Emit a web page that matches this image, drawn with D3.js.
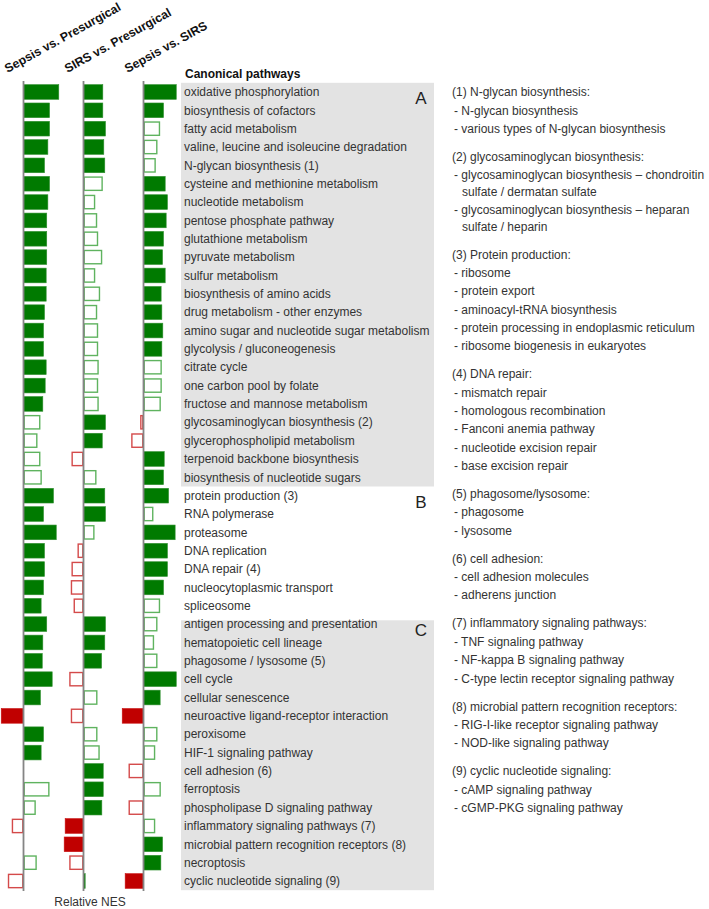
<!DOCTYPE html>
<html>
<head>
<meta charset="utf-8">
<script src="https://cdn.jsdelivr.net/npm/d3@7"></script>
<style>
  html, body { margin: 0; padding: 0; background: #fff; }
  svg { display: block; font-family: "Liberation Sans", Arial, sans-serif; }
</style>
</head>
<body>
<svg id="chart" width="709" height="909"></svg>
<script>
// ---------------- DATA ----------------
const pathways = [
  "oxidative phosphorylation", "biosynthesis of cofactors", "fatty acid metabolism",
  "valine, leucine and isoleucine degradation", "N-glycan biosynthesis (1)",
  "cysteine and methionine metabolism", "nucleotide metabolism", "pentose phosphate pathway",
  "glutathione metabolism", "pyruvate metabolism", "sulfur metabolism",
  "biosynthesis of amino acids", "drug metabolism - other enzymes",
  "amino sugar and nucleotide sugar metabolism", "glycolysis / gluconeogenesis",
  "citrate cycle", "one carbon pool by folate", "fructose and mannose metabolism",
  "glycosaminoglycan biosynthesis (2)", "glycerophospholipid metabolism",
  "terpenoid backbone biosynthesis", "biosynthesis of nucleotide sugars",
  "protein production (3)", "RNA polymerase", "proteasome", "DNA replication",
  "DNA repair (4)", "nucleocytoplasmic transport", "spliceosome",
  "antigen processing and presentation", "hematopoietic cell lineage",
  "phagosome / lysosome (5)", "cell cycle", "cellular senescence",
  "neuroactive ligand-receptor interaction", "peroxisome", "HIF-1 signaling pathway",
  "cell adhesion (6)", "ferroptosis", "phospholipase D signaling pathway",
  "inflammatory signaling pathways (7)", "microbial pattern recognition receptors (8)",
  "necroptosis", "cyclic nucleotide signaling (9)"
];

const comparisons = ["Sepsis vs. Presurgical", "SIRS vs. Presurgical", "Sepsis vs. SIRS"];

// relative NES per pathway (same order as pathways)
const sepsisVsPresurgical = [
  2.52, 1.86, 1.86, 1.74, 1.50, 1.86, 1.74, 1.66, 1.66, 1.66, 1.62,
  1.62, 1.50, 1.43, 1.43, 1.62, 1.55, 1.38, 1.21, 1.00, 1.21, 1.31,
  2.14, 1.43, 2.34, 1.50, 1.50, 1.43, 1.26,
  1.66, 1.38, 1.34, 2.05, 1.21, -1.59, 1.43, 1.26, 0, 1.86, 0.88, -0.84, 0, 0.95, -1.12
];
const sepsisVsPresurgicalSig = [
  1,1,1,1,1,1,1,1,1,1,1, 1,1,1,1,1,1,1,0,0,0,0,
  1,1,1,1,1,1,1,
  1,1,1,1,1,1,1,1,0,0,0,0,0,0,0
];
const sirsVsPresurgical = [
  1.38, 1.38, 1.57, 1.45, 1.52, 1.38, 0.84, 0.98, 1.05, 1.34, 0.84,
  1.19, 0.98, 1.05, 1.05, 1.09, 1.05, 1.09, 1.57, 1.34, -0.86, 0.93,
  1.52, 1.57, 0.79, -0.43, -0.86, -0.91, -0.71,
  1.57, 1.52, 1.29, -1.02, 1.00, -0.91, 1.00, 1.16, 1.41, 1.41, 1.31, -1.31, -1.38, -1.02, 0.12
];
const sirsVsPresurgicalSig = [
  1,1,1,1,1,0,0,0,0,0,0, 0,0,0,0,0,0,0,1,1,0,0,
  1,1,0,0,0,0,0,
  1,1,1,0,0,0,0,0,1,1,1,1,1,0,1
];
const sepsisVsSirs = [
  2.34, 1.43, 1.19, 1.00, 0.88, 1.55, 1.71, 1.62, 1.43, 1.36, 1.55,
  1.26, 1.31, 1.38, 1.31, 1.31, 1.31, 1.24, -0.24, -0.88, 1.48, 1.43,
  1.79, 0.71, 2.26, 1.71, 1.71, 1.43, 1.19,
  1.00, 0.76, 1.00, 2.34, 1.19, -1.52, 1.00, 0.84, -1.07, 1.24, -1.07, 0.84, 1.36, 1.24, -1.31
];
const sepsisVsSirsSig = [
  1,1,0,0,0,1,1,1,1,1,1, 1,1,1,1,0,0,0,0,0,1,1,
  1,0,1,1,1,1,0,
  0,0,0,1,1,1,0,0,0,0,0,0,1,1,1
];

const seriesValues = [sepsisVsPresurgical, sirsVsPresurgical, sepsisVsSirs];
const seriesSig = [sepsisVsPresurgicalSig, sirsVsPresurgicalSig, sepsisVsSirsSig];

// pathway groups (first / last pathway of each panel)
const groupLabels = ["A", "B", "C"];
const groupFirst = ["oxidative phosphorylation", "protein production (3)", "antigen processing and presentation"];
const groupLast = ["biosynthesis of nucleotide sugars", "spliceosome", "cyclic nucleotide signaling (9)"];
const groupShaded = [true, false, true];

// footnotes
const noteTitles = [
  "(1) N-glycan biosynthesis:",
  "(2) glycosaminoglycan biosynthesis:",
  "(3) Protein production:",
  "(4) DNA repair:",
  "(5) phagosome/lysosome:",
  "(6) cell adhesion:",
  "(7) inflammatory signaling pathways:",
  "(8) microbial pattern recognition receptors:",
  "(9) cyclic nucleotide signaling:"
];
const noteItems = [
  [["- N-glycan biosynthesis"], ["- various types of N-glycan biosynthesis"]],
  [["- glycosaminoglycan biosynthesis \u2013 chondroitin", "sulfate / dermatan sulfate"],
   ["- glycosaminoglycan biosynthesis \u2013 heparan", "sulfate / heparin"]],
  [["- ribosome"], ["- protein export"], ["- aminoacyl-tRNA biosynthesis"],
   ["- protein processing in endoplasmic reticulum"], ["- ribosome biogenesis in eukaryotes"]],
  [["- mismatch repair"], ["- homologous recombination"], ["- Fanconi anemia pathway"],
   ["- nucleotide excision repair"], ["- base excision repair"]],
  [["- phagosome"], ["- lysosome"]],
  [["- cell adhesion molecules"], ["- adherens junction"]],
  [["- TNF signaling pathway"], ["- NF-kappa B signaling pathway"], ["- C-type lectin receptor signaling pathway"]],
  [["- RIG-I-like  receptor signaling pathway"], ["- NOD-like signaling pathway"]],
  [["- cAMP signaling pathway"], ["- cGMP-PKG signaling pathway"]]
];

const headerTitle = "Canonical pathways";
const axisTitle = "Relative NES";

// ---------------- LAYOUT ----------------
const svg = d3.select("#chart");

const y = d3.scaleBand()
  .domain(pathways)
  .range([82.8, 82.8 + pathways.length * 18.35])
  .paddingInner(0.2)
  .paddingOuter(0.1);
const step = y.step();
const bw = y.bandwidth();

const colX = d3.scalePoint().domain(comparisons).range([23.5, 143.5]);
const unit = 14; // px per NES unit
const xFor = c => d3.scaleLinear().domain([-2, 3]).range([colX(c) - 2 * unit, colX(c) + 3 * unit]);

// shaded panels
const boxLeft = 181, boxRight = 434;
groupLabels.forEach((g, i) => {
  const top = i === 2 ? y(groupFirst[i]) + 3.5 : y(groupFirst[i]) - step * 0.1;
  const bottom = y(groupLast[i]) + bw + step * 0.1;
  if (groupShaded[i]) {
    svg.append("rect")
      .attr("x", boxLeft).attr("y", top)
      .attr("width", boxRight - boxLeft).attr("height", bottom - top)
      .attr("fill", "#e3e3e3");
  }
  svg.append("text")
    .attr("x", 421)
    .attr("y", y(groupFirst[i]) + bw / 2 + 12)
    .attr("text-anchor", "middle")
    .attr("font-size", 17)
    .attr("fill", "#222")
    .text(g);
});

// pathway labels
svg.append("g").selectAll("text")
  .data(pathways)
  .join("text")
  .attr("x", 184)
  .attr("y", d => y(d) + bw / 2)
  .attr("dy", "0.35em")
  .attr("font-size", 12)
  .attr("fill", "#333")
  .text(d => d);

svg.append("text")
  .attr("x", 185).attr("y", 78)
  .attr("font-size", 12).attr("font-weight", "bold")
  .attr("fill", "#111")
  .text(headerTitle);

// bars
comparisons.forEach((c, ci) => {
  const xs = xFor(c);
  const rows = pathways.map((p, i) => ({ p, v: seriesValues[ci][i], s: seriesSig[ci][i] }))
    .filter(d => d.v !== 0);
  const g = svg.append("g");
  g.selectAll("rect")
    .data(rows)
    .join("rect")
    .each(function (d) {
      const x0 = xs(Math.min(0, d.v)), x1 = xs(Math.max(0, d.v));
      const pos = d.v > 0;
      const sel = d3.select(this);
      if (d.s) {
        sel.attr("x", x0).attr("y", y(d.p))
          .attr("width", x1 - x0).attr("height", bw)
          .attr("fill", pos ? "#007a00" : "#c00000")
          .attr("stroke", pos ? "#2f8f2f" : "#c81010")
          .attr("stroke-width", 0.6);
      } else {
        const sw = 1.4;
        sel.attr("x", x0 + sw / 2).attr("y", y(d.p) + sw / 2)
          .attr("width", Math.max(0.5, x1 - x0 - sw)).attr("height", bw - sw)
          .attr("fill", "#fff")
          .attr("stroke", pos ? "#5fb35f" : "#d44a4a")
          .attr("stroke-width", sw);
      }
    });

  // zero line
  svg.append("line")
    .attr("x1", xs(0)).attr("x2", xs(0))
    .attr("y1", 81).attr("y2", 891)
    .attr("stroke", "#858585").attr("stroke-width", 1.8);

  // rotated header
  svg.append("text")
    .attr("transform", `translate(${xs(0) - 16},73) rotate(-29)`)
    .attr("font-size", 12.3).attr("font-weight", "bold")
    .attr("fill", "#111")
    .text(c);
});

svg.append("text")
  .attr("x", 90).attr("y", 906)
  .attr("text-anchor", "middle")
  .attr("font-size", 12).attr("fill", "#333")
  .text(axisTitle);

// footnotes
const notes = svg.append("g").attr("font-size", 12).attr("fill", "#333");
let ly = y(pathways[0]) + bw / 2;
const itemStep = 18.35, contStep = 16.5, groupGap = 28;
noteTitles.forEach((t, i) => {
  if (i > 0) ly += groupGap;
  notes.append("text").attr("x", 452).attr("y", ly).attr("dy", "0.35em").text(t);
  noteItems[i].forEach(item => {
    ly += itemStep;
    item.forEach((line, li) => {
      if (li > 0) ly += contStep;
      notes.append("text")
        .attr("x", li === 0 ? 454 : 462)
        .attr("y", ly).attr("dy", "0.35em")
        .text(line);
    });
  });
});
</script>
</body>
</html>
